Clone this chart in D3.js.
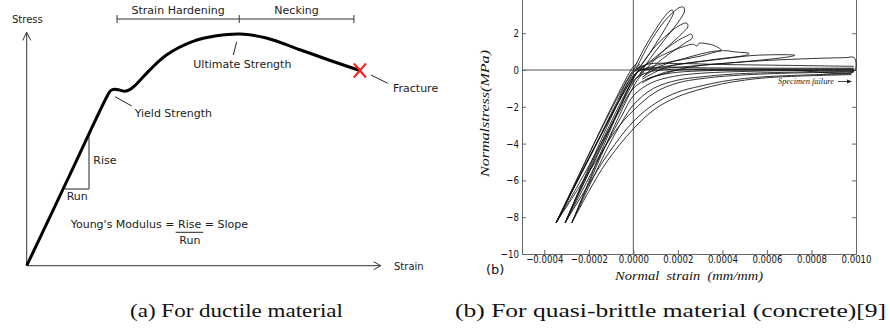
<!DOCTYPE html>
<html>
<head>
<meta charset="utf-8">
<script src="https://cdn.jsdelivr.net/npm/d3@7"></script>
<style>
  body { margin: 0; background: #fff; }
  svg { display: block; }
</style>
</head>
<body>
<svg id="fig" width="890" height="333"></svg>
<script>
// ---- (a) ductile material: schematic stress-strain curve (arbitrary units 0..100)
const ductileStrain = [0, 11.5, 23.0, 23.8, 24.9, 26.4, 27.8, 29.2, 30.6, 34.9, 39.7, 47.1, 53.8, 60.4, 67.9, 77.4, 86.8, 94.4];
const ductileStress = [0, 37.0, 74.0, 75.8, 76.4, 76.0, 75.5, 76.2, 77.9, 84.8, 91.3, 97.1, 99.5, 100.3, 98.6, 93.5, 88.4, 84.5];
const regionBounds = [25.6, 60.2, 92.7];           // strain hardening | necking
const regionLabels = ["Strain Hardening", "Necking"];

// ---- (b) quasi-brittle material: cyclic test, strain in 1e-4 mm/mm, stress in MPa
const strainTicks = [-4, -2, 0, 2, 4, 6, 8, 10];
const stressTicks = [-10, -8, -6, -4, -2, 0, 2];

// steep loading branches down to the compression tips
const compressionLines = [
  [[0.3, 0.3], [0, 0], [-3.47, -8.3]],
  [[0.4, 0.1], [0.05, -0.3], [-3.47, -8.3]],
  [[0.2, 0.4], [-0.05, 0.1], [-3.4, -8.2]],
  [[0.5, 0.2], [0.1, -0.2], [-3.44, -8.25]],
  [[0.3, 0.2], [0, -0.15], [-3.06, -8.3]],
  [[0.5, 0.0], [0.1, -0.5], [-3.06, -8.3]],
  [[0.6, 0.3], [0.2, -0.1], [-3.0, -8.1]],
  [[0.3, 0.1], [0, -0.45], [-2.76, -8.3]],
  [[0.5, -0.1], [0.1, -0.7], [-2.76, -8.3]]
];

// reloading curves from the compression tips, flattening toward the strain limit
const reloadCurves = [
  [[-3.47, -8.3], [-1.7, -4.1], [-0.8, -1.9], [0, -0.1], [0.6, 0.3], [2, 0.35], [4, 0.3], [7, 0.25], [9.9, 0.2]],
  [[-3.47, -8.3], [-2.6, -6.25], [-1.7, -4.15], [-0.8, -2.0], [0, -0.3], [0.5, 0.05], [1.2, 0.15], [3, 0.12], [6, 0.1], [9.9, 0.1]],
  [[-3.06, -8.3], [-2.2, -6.1], [-1.3, -3.85], [-0.6, -2.0], [0, -0.6], [0.6, -0.15], [1.5, 0.02], [3, 0.05], [6, 0.05], [9.9, 0.06]],
  [[-3.47, -8.3], [-2.5, -6.3], [-1.5, -4.1], [-0.7, -2.4], [0, -1.0], [0.7, -0.45], [1.6, -0.18], [3, -0.05], [6, 0.0], [9.9, 0.02]],
  [[-3.06, -8.3], [-2.1, -6.1], [-1.2, -4.0], [-0.5, -2.45], [0, -1.4], [0.8, -0.7], [1.8, -0.35], [3, -0.18], [6, -0.05], [9.9, -0.02]],
  [[-2.76, -8.3], [-1.9, -6.1], [-1.1, -4.1], [-0.5, -2.8], [0, -1.9], [0.9, -1.0], [2, -0.55], [3, -0.38], [4.5, -0.22], [7, -0.12], [9.9, -0.08]],
  [[-3.47, -8.3], [-2.5, -6.5], [-1.6, -4.8], [-0.8, -3.3], [0, -2.2], [1, -1.2], [2, -0.7], [3, -0.48], [4.5, -0.3], [7, -0.17], [9.9, -0.12]],
  [[-3.06, -8.3], [-2.1, -6.4], [-1.1, -4.5], [0, -2.8], [1, -1.8], [2, -1.2], [3, -0.88], [4, -0.62], [5, -0.46], [6, -0.36], [7.5, -0.28], [9.8, -0.2]],
  [[-2.76, -8.3], [-2, -6.6], [-1.2, -5.0], [0, -3.2], [1, -2.1], [2, -1.45], [3, -1.05], [4, -0.75], [5, -0.55], [6, -0.42], [7.5, -0.33], [9.8, -0.25]]
];

// tension loops (petals and long wedges), softening envelope
const tensionLoops = [
  [[0, 0], [0.5, 1.2], [1.0, 2.2], [1.4, 2.9], [1.65, 3.22], [1.75, 3.25], [1.8, 3.1], [1.6, 2.6], [1.1, 1.6], [0.5, 0.5], [0.1, -0.1]],
  [[0.1, 0], [0.7, 1.4], [1.3, 2.5], [1.8, 3.15], [2.05, 3.38], [2.25, 3.42], [2.3, 3.2], [2.1, 2.75], [1.5, 1.8], [0.8, 0.7], [0.3, -0.2]],
  [[0.2, 0], [1.0, 1.3], [1.8, 2.2], [2.2, 2.5], [2.4, 2.55], [2.45, 2.35], [2.2, 2.0], [1.4, 1.1], [0.6, 0.1], [0.2, -0.4]],
  [[0.3, 0], [1.2, 0.9], [2.0, 1.6], [2.4, 1.85], [2.6, 1.95], [2.65, 1.75], [2.3, 1.45], [1.3, 0.6], [0.5, -0.3]],
  [[0.3, 0.1], [1.3, 0.8], [2.2, 1.25], [2.7, 1.4], [2.85, 1.3], [2.95, 1.45], [3.3, 1.43], [3.65, 1.32], [3.95, 1.08], [3.5, 1.0], [2.5, 0.7], [1.2, 0.2], [0.4, -0.4]],
  [[0.3, 0], [1.5, 0.4], [3.0, 0.75], [4.0, 1.05], [4.6, 0.98], [5.2, 0.9], [5.1, 0.82], [3.5, 0.55], [1.5, 0.15], [0.4, -0.5]],
  [[0.4, 0], [2.0, 0.3], [4.0, 0.6], [5.5, 0.8], [7.25, 0.8], [7.0, 0.72], [5.0, 0.45], [2.5, 0.15], [0.6, -0.5]],
  [[0.5, 0], [2.5, 0.2], [5.0, 0.45], [7.5, 0.6], [9.5, 0.67], [9.92, 0.67], [9.92, -0.05], [7, 0.0], [4, 0.02], [1.5, -0.1], [0.4, -0.7]]
];

const svg = d3.select("#fig");
svg.append("rect").attr("width", 890).attr("height", 333).attr("fill", "#fff");

// ================= panel (a) =================
const xs = d3.scaleLinear().domain([0, 100]).range([26.7, 379.7]);
const ys = d3.scaleLinear().domain([0, 100]).range([265.7, 34.7]);
const a = svg.append("g");
const ink = "#222";
const sans = "DejaVu Sans";

// axes with open arrowheads
a.append("path")
  .attr("d", `M${xs(0)},${ys(0)}V${ys(101)}M${xs(0) - 4},${ys(101) + 8}L${xs(0)},${ys(101)}L${xs(0) + 4},${ys(101) + 8}`)
  .attr("fill", "none").attr("stroke", "#333").attr("stroke-width", 1);
a.append("path")
  .attr("d", `M${xs(0)},${ys(0)}H${xs(100.3)}M${xs(100.3) - 7},${ys(0) - 4}L${xs(100.3)},${ys(0)}L${xs(100.3) - 7},${ys(0) + 4}`)
  .attr("fill", "none").attr("stroke", "#333").attr("stroke-width", 1);

a.append("text").attr("x", 12).attr("y", 23).text("Stress")
  .attr("font-family", sans).attr("font-size", 10).attr("fill", ink);
a.append("text").attr("x", 394).attr("y", 270).text("Strain")
  .attr("font-family", sans).attr("font-size", 10).attr("fill", ink);

// the curve
const ductile = ductileStrain.map((s, i) => [s, ductileStress[i]]);
a.append("path").datum(ductile)
  .attr("d", d3.line().x(d => xs(d[0])).y(d => ys(d[1])).curve(d3.curveCatmullRom.alpha(0.5)))
  .attr("fill", "none").attr("stroke", "#000").attr("stroke-width", 3).attr("stroke-linejoin", "round");

// fracture mark
const fr = ductile[ductile.length - 1];
a.append("path")
  .attr("d", `M${xs(fr[0]) - 6},${ys(fr[1]) - 7}L${xs(fr[0]) + 6},${ys(fr[1]) + 7}M${xs(fr[0]) + 6},${ys(fr[1]) - 7}L${xs(fr[0]) - 6},${ys(fr[1]) + 7}`)
  .attr("stroke", "#ff1a1a").attr("stroke-width", 2).attr("fill", "none");

// region bracket
const by = 19;
a.append("path")
  .attr("d", `M${xs(regionBounds[0])},${by}H${xs(regionBounds[2])}` +
    regionBounds.map(b => `M${xs(b)},${by - 4}V${by + 4}`).join(""))
  .attr("stroke", "#333").attr("stroke-width", 1).attr("fill", "none");
regionLabels.forEach((t, i) => {
  a.append("text")
    .attr("x", (xs(regionBounds[i]) + xs(regionBounds[i + 1])) / 2).attr("y", 13.5)
    .attr("text-anchor", "middle").text(t)
    .attr("font-family", sans).attr("font-size", 11).attr("fill", ink);
});

// annotations
const leaders = [
  [236.7, 41.7, 233.3, 55],
  [371, 75, 387.7, 83.3],
  [115, 96.7, 131.7, 106]
];
a.selectAll("line.leader").data(leaders).join("line").attr("class", "leader")
  .attr("x1", d => d[0]).attr("y1", d => d[1]).attr("x2", d => d[2]).attr("y2", d => d[3])
  .attr("stroke", "#222").attr("stroke-width", 1);

const notes = [
  ["Ultimate Strength", 193.3, 67.5],
  ["Fracture", 393, 91.5],
  ["Yield Strength", 134.7, 117],
  ["Rise", 93.3, 163.5],
  ["Run", 66.7, 200],
  ["Young's Modulus = Rise = Slope", 70.7, 228],
  ["Run", 179.3, 244]
];
a.selectAll("text.note").data(notes).join("text").attr("class", "note")
  .attr("x", d => d[1]).attr("y", d => d[2]).text(d => d[0])
  .attr("font-family", sans).attr("font-size", 11).attr("fill", ink);

// rise / run triangle and fraction bar
a.append("path").attr("d", "M89,136.7V189H65")
  .attr("stroke", "#222").attr("stroke-width", 1).attr("fill", "none");
a.append("line").attr("x1", 175.7).attr("x2", 203.3).attr("y1", 232.3).attr("y2", 232.3)
  .attr("stroke", "#222").attr("stroke-width", 1);

// ================= panel (b) =================
const x = d3.scaleLinear().domain([-5, 10]).range([522, 856]);
const y = d3.scaleLinear().domain([-10, 4]).range([254, -3.6]);
const b = svg.append("g");
const spine = "#666";

// zero reference lines
b.append("line").attr("x1", x(-5)).attr("x2", x(10)).attr("y1", y(0)).attr("y2", y(0))
  .attr("stroke", "#555").attr("stroke-width", 1);
b.append("line").attr("x1", x(0)).attr("x2", x(0)).attr("y1", y(-10)).attr("y2", 0)
  .attr("stroke", "#555").attr("stroke-width", 1);

const fmtStrain = v => (v < 0 ? "\u2212" : "") + Math.abs(v * 1e-4).toFixed(4);

const gx = b.append("g").attr("transform", `translate(0,${y(-10)})`)
  .call(d3.axisBottom(x).tickValues(strainTicks).tickFormat(fmtStrain)
    .tickSize(-4).tickSizeOuter(0).tickPadding(1.5));
const gy = b.append("g").attr("transform", `translate(${x(-5)},0)`)
  .call(d3.axisLeft(y).tickValues(stressTicks).tickFormat(d3.format("d"))
    .tickSize(-4).tickSizeOuter(0).tickPadding(4));
const gr = b.append("g").attr("transform", `translate(${x(10)},0)`)
  .call(d3.axisRight(y).tickValues(stressTicks).tickFormat("")
    .tickSize(-4).tickSizeOuter(0));

[gx, gy, gr].forEach(g => {
  g.select(".domain").attr("stroke", spine);
  g.selectAll(".tick line").attr("stroke", spine);
  g.selectAll(".tick text")
    .attr("font-family", sans).attr("font-size", 11).attr("fill", "#111")
    .attr("transform", "scale(0.78,1)");
});

// curves
const line = d3.line().x(d => x(d[0])).y(d => y(d[1])).curve(d3.curveCatmullRom.alpha(0.5));
const curves = b.append("g").attr("fill", "none").attr("stroke", "#111")
  .attr("stroke-width", 0.85).attr("stroke-linejoin", "round");
curves.selectAll("path.comp").data(compressionLines).join("path").attr("class", "comp").attr("d", line);
curves.selectAll("path.reload").data(reloadCurves).join("path").attr("class", "reload").attr("d", line);
curves.selectAll("path.tension").data(tensionLoops).join("path").attr("class", "tension").attr("d", line);

// specimen failure note
b.append("text").attr("x", 778).attr("y", 84).text("Specimen failure")
  .attr("font-family", "Liberation Serif").attr("font-style", "italic")
  .attr("font-size", 9).attr("textLength", 56).attr("lengthAdjust", "spacingAndGlyphs").attr("fill", "#222");
b.append("line").attr("x1", 838).attr("x2", 848).attr("y1", 81.5).attr("y2", 81.5)
  .attr("stroke", "#222").attr("stroke-width", 0.8);
b.append("path").attr("d", "M852,81.5L847,79.5L847,83.5Z").attr("fill", "#222");

// axis titles
b.append("text").attr("x", 689).attr("y", 280).attr("text-anchor", "middle")
  .text("Normal  strain  (mm/mm)").attr("xml:space", "preserve")
  .attr("font-family", "Liberation Serif").attr("font-style", "italic").attr("font-size", 13)
  .attr("textLength", 148).attr("lengthAdjust", "spacingAndGlyphs").attr("fill", "#111");
b.append("text").attr("transform", "translate(489,113.5) rotate(-90)").attr("text-anchor", "middle")
  .text("Normalstress(MPa)")
  .attr("font-family", "Liberation Serif").attr("font-style", "italic").attr("font-size", 13)
  .attr("textLength", 127).attr("lengthAdjust", "spacingAndGlyphs").attr("fill", "#111");
b.append("text").attr("x", 486).attr("y", 274).text("(b)")
  .attr("font-family", sans).attr("font-size", 13).attr("fill", "#111");

// ================= captions =================
const captions = [
  ["(a) For ductile material", 130, 213],
  ["(b) For quasi-brittle material (concrete)[9]", 455, 431]
];
svg.selectAll("text.caption").data(captions).join("text").attr("class", "caption")
  .attr("x", d => d[1]).attr("y", 317).text(d => d[0])
  .attr("font-family", "Liberation Serif").attr("font-size", 18)
  .attr("textLength", d => d[2]).attr("lengthAdjust", "spacingAndGlyphs").attr("fill", "#111");
</script>
</body>
</html>
